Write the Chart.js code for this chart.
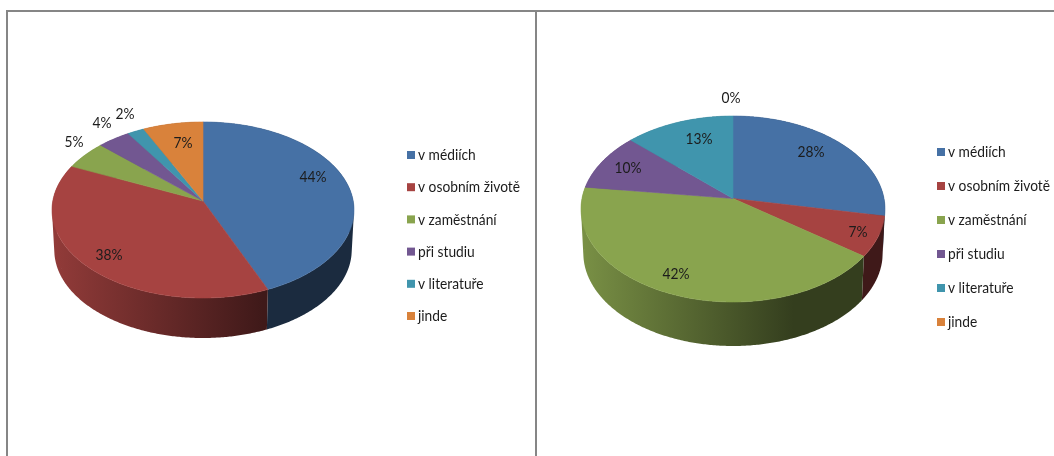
<!DOCTYPE html>
<html>
<head>
<meta charset="utf-8">
<title>Grafy</title>
<script src="https://cdn.jsdelivr.net/npm/chart.js@4"></script>
<style>
  body { margin: 0; background: #fff; width: 1054px; height: 456px; overflow: hidden; position: relative; }
  canvas { position: absolute; top: 0; }
  #chartLeft { left: 0; }
  #chartRight { left: 530px; }
  .frame { position: absolute; background: #868686; }
</style>
</head>
<body>
<canvas id="chartLeft" width="530" height="456"></canvas>
<canvas id="chartRight" width="524" height="456"></canvas>
<div class="frame" style="left:6px;top:10px;width:1048px;height:2px"></div>
<div class="frame" style="left:6px;top:10px;width:2px;height:446px"></div>
<div class="frame" style="left:535px;top:10px;width:2px;height:446px"></div>
<script>
const categories = ['v médiích', 'v osobním životě', 'v zaměstnání', 'při studiu', 'v literatuře', 'jinde'];
const valuesLeft = [43.6, 38.2, 5.2, 3.9, 2, 7.1];
const valuesRight = [28, 7, 42, 10, 13, 0];
const colors = ['#4671a5', '#a64341', '#89a44e', '#725791', '#4095ad', '#d9823b'];

// Multiply a hex colour, used for the shaded side of the pie
function shade(hex, k) {
  const n = parseInt(hex.slice(1), 16);
  const r = Math.round((n >> 16) * k);
  const g = Math.round(((n >> 8) & 255) * k);
  const b = Math.round((n & 255) * k);
  return `rgb(${r}, ${g}, ${b})`;
}

// Tilted pie: maps a slice angle (0 = top, clockwise) onto the perspective ellipse
function rimPoint(view, angle) {
  const u = Math.sin(angle);
  const v = Math.cos(angle);
  const w = 1 + view.perspective * v;
  return { x: view.cx + view.a * u / w, y: view.cy - view.b * v / w };
}

function arcPoints(view, start, end) {
  const steps = Math.max(2, Math.ceil((end - start) / 0.01));
  const points = [];
  for (let i = 0; i <= steps; i++) {
    points.push(rimPoint(view, start + (end - start) * i / steps));
  }
  return points;
}

// Adds one wall segment to the path, always with the same winding so they merge
function addWallQuad(ctx, quad) {
  let area = 0;
  quad.forEach((p, i) => {
    const q = quad[(i + 1) % 4];
    area += p.x * q.y - q.x * p.y;
  });
  const pts = area < 0 ? quad.slice().reverse() : quad;
  ctx.moveTo(pts[0].x, pts[0].y);
  pts.slice(1).forEach(p => ctx.lineTo(p.x, p.y));
  ctx.closePath();
}

// Calibri-like text: Lato squeezed horizontally
function drawText(ctx, text, x, y, squeeze) {
  ctx.save();
  ctx.translate(x, y);
  ctx.scale(squeeze, 1);
  ctx.fillText(text, 0, 0);
  ctx.restore();
}

const tiltedPie = {
  id: 'tiltedPie',
  // The library computes the slice angles, the plugin only projects them
  beforeDatasetDraw(chart) {
    const { ctx } = chart;
    const view = chart.options.plugins.tiltedPie;
    const arcs = chart.getDatasetMeta(0).data;
    const angles = arcs.map(arc => [arc.startAngle + Math.PI / 2, arc.endAngle + Math.PI / 2]);
    const left = view.cx - view.a;
    const right = view.cx + view.a;
    const lower = p => ({ x: view.cx + (p.x - view.cx) * view.baseScale, y: p.y + view.depth });

    arcs.forEach((arc, i) => {
      if (angles[i][1] <= angles[i][0]) return;
      const top = arcPoints(view, angles[i][0], angles[i][1]);
      const grad = ctx.createLinearGradient(left, 0, right, 0);
      grad.addColorStop(0, shade(colors[i], 0.88));
      grad.addColorStop(0.7, shade(colors[i], 0.38));
      grad.addColorStop(1, shade(colors[i], 0.38));
      ctx.beginPath();
      for (let j = 0; j < top.length - 1; j++) {
        addWallQuad(ctx, [top[j], top[j + 1], lower(top[j + 1]), lower(top[j])]);
      }
      ctx.fillStyle = grad;
      ctx.fill();
    });

    arcs.forEach((arc, i) => {
      if (angles[i][1] <= angles[i][0]) return;
      const top = arcPoints(view, angles[i][0], angles[i][1]);
      ctx.beginPath();
      ctx.moveTo(view.cx, view.cy);
      top.forEach(p => ctx.lineTo(p.x, p.y));
      ctx.closePath();
      ctx.fillStyle = colors[i];
      ctx.strokeStyle = colors[i];
      ctx.lineWidth = 0.6;
      ctx.fill();
      ctx.stroke();
    });
    return false;
  },
  afterDraw(chart) {
    const { ctx } = chart;
    const view = chart.options.plugins.tiltedPie;
    const values = chart.data.datasets[0].data;
    const total = values.reduce((a, b) => a + b, 0);
    ctx.save();
    ctx.font = view.font;
    ctx.textBaseline = 'middle';
    ctx.fillStyle = '#1c1c1c';

    ctx.textAlign = 'center';
    values.forEach((value, i) => {
      const spot = view.labelSpots[i];
      if (spot) drawText(ctx, Math.round(value / total * 100) + '%', spot[0], spot[1], view.squeeze);
    });

    ctx.textAlign = 'left';
    chart.data.labels.forEach((label, i) => {
      const y = view.legendTop + i * view.legendStep;
      ctx.fillStyle = colors[i];
      ctx.fillRect(view.legendX, y - 4, 8, 8);
      ctx.fillStyle = '#1c1c1c';
      drawText(ctx, label, view.legendX + 11, y, view.squeeze);
    });
    ctx.restore();
  }
};

function makeChart(id, values, view) {
  return new Chart(document.getElementById(id), {
    type: 'pie',
    data: {
      labels: categories,
      datasets: [{ data: values, backgroundColor: colors, borderWidth: 0 }]
    },
    options: {
      responsive: false,
      animation: false,
      plugins: {
        legend: { display: false },
        tooltip: { enabled: false },
        tiltedPie: view
      }
    },
    plugins: [tiltedPie]
  });
}

makeChart('chartLeft', valuesLeft, {
  cx: 203, cy: 201, a: 150.2, b: 87.1, perspective: 0.102, depth: 40, baseScale: 0.985,
  font: '16px Lato', squeeze: 0.86,
  legendX: 407, legendTop: 155, legendStep: 32.2,
  labelSpots: [[313, 177], [109, 255], [74, 142], [102, 123], [125, 114], [183, 143]]
});

makeChart('chartRight', valuesRight, {
  cx: 203, cy: 198.5, a: 151, b: 91.8, perspective: 0.113, depth: 44, baseScale: 0.985,
  font: '16px Lato', squeeze: 0.86,
  legendX: 407, legendTop: 152, legendStep: 34,
  labelSpots: [[281, 152], [328, 232], [146, 274], [98, 168], [169, 139], [201, 98]]
});
</script>
</body>
</html>
